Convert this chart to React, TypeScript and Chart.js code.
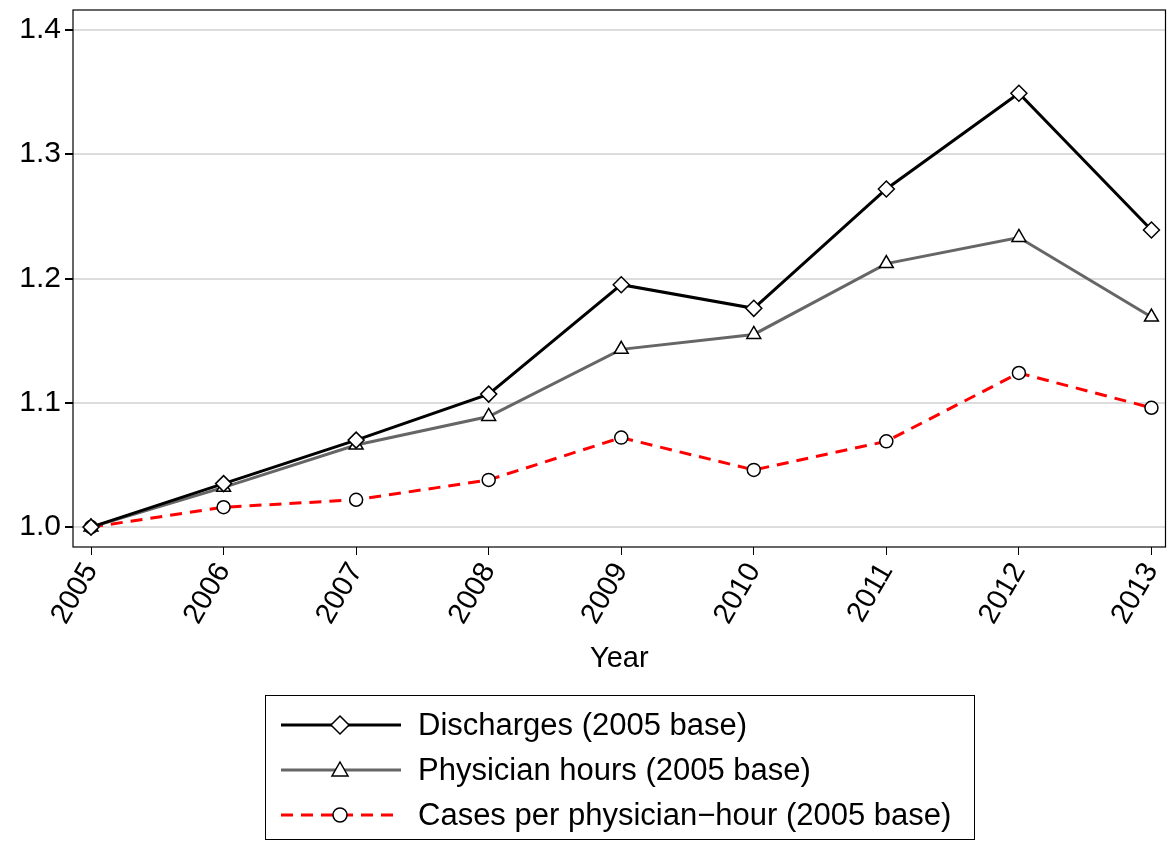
import React, { useEffect, useRef } from 'react';
import Chart from 'chart.js/auto';

const years = [2005, 2006, 2007, 2008, 2009, 2010, 2011, 2012, 2013];
const discharges = [1.0, 1.035, 1.07, 1.107, 1.195, 1.176, 1.272, 1.349, 1.239];
const physicianHours = [1.0, 1.032, 1.066, 1.089, 1.143, 1.155, 1.212, 1.233, 1.169];
const casesPerHour = [1.0, 1.016, 1.022, 1.038, 1.072, 1.046, 1.069, 1.124, 1.096];
const yTicks = [1.0, 1.1, 1.2, 1.3, 1.4];

const FONT = '"Liberation Sans", Arial, sans-serif';

const frame = {
  id: 'frame',
  afterDraw(chart: any) {
    const { ctx, chartArea: a } = chart;
    ctx.save();
    ctx.strokeStyle = '#000';
    ctx.lineWidth = 1.2;
    ctx.strokeRect(a.left, a.top, a.right - a.left, a.bottom - a.top);
    ctx.restore();
  },
};

const Marker: React.FC<{ kind: string; color: string; dash?: boolean }> = ({ kind, color, dash }) => (
  <svg width={122} height={24} style={{ verticalAlign: 'middle', flex: 'none' }}>
    <line x1={1} y1={12} x2={121} y2={12} stroke={color} strokeWidth={3} strokeDasharray={dash ? '12 8' : undefined} />
    {kind === 'diamond' && <polygon points="60,3 69,12 60,21 51,12" fill="#fff" stroke="#000" strokeWidth={1.5} />}
    {kind === 'tri' && <polygon points="60,4 68,18 52,18" fill="#fff" stroke="#000" strokeWidth={1.5} />}
    {kind === 'circle' && <circle cx={60} cy={12} r={7} fill="#fff" stroke="#000" strokeWidth={1.5} />}
  </svg>
);

export default function App() {
  const ref = useRef<HTMLCanvasElement>(null);
  useEffect(() => {
    if (!ref.current) return;
    const mk = (arr: number[]) => arr.map((v, i) => ({ x: years[i], y: v }));
    const chart = new Chart(ref.current, {
      type: 'line',
      data: {
        datasets: [
          { label: 'Discharges (2005 base)', data: mk(discharges), borderColor: '#000', borderWidth: 3, pointStyle: 'rectRot', pointRadius: 8, pointBackgroundColor: '#fff', pointBorderColor: '#000', pointBorderWidth: 1.5 },
          { label: 'Physician hours (2005 base)', data: mk(physicianHours), borderColor: '#666', borderWidth: 3, pointStyle: 'triangle', pointRadius: 8, pointBackgroundColor: '#fff', pointBorderColor: '#000', pointBorderWidth: 1.5 },
          { label: 'Cases per physician\u2212hour (2005 base)', data: mk(casesPerHour), borderColor: '#ff0000', borderWidth: 3, borderDash: [12, 8], pointStyle: 'circle', pointRadius: 6.5, pointBackgroundColor: '#fff', pointBorderColor: '#000', pointBorderWidth: 1.5 },
        ],
      },
      options: {
        animation: false,
        responsive: false,
        layout: { padding: { top: 0, right: 2, left: 0, bottom: 0 } },
        plugins: { legend: { display: false }, tooltip: { enabled: false } },
        scales: {
          x: {
            type: 'linear',
            min: 2004.864,
            max: 2013.106,
            afterBuildTicks: (s: any) => { s.ticks = years.map((v) => ({ value: v })); },
            afterFit: (s: any) => { s.height = 133; s.paddingRight = 0; s.paddingLeft = 0; },
            ticks: { color: '#000', font: { family: FONT, size: 29 }, minRotation: 60, maxRotation: 60, callback: (v: any) => String(v), padding: 2 },
            grid: { drawOnChartArea: false, tickColor: '#000', tickLength: 8 },
            border: { display: false },
            title: { display: true, text: 'Year', color: '#000', font: { family: FONT, size: 29 }, padding: { top: 0, bottom: 4 } },
          },
          y: {
            min: 0.984,
            max: 1.416,
            afterBuildTicks: (s: any) => { s.ticks = yTicks.map((v) => ({ value: v })); },
            afterFit: (s: any) => { s.width = 73; s.paddingTop = 10; s.paddingBottom = 0; },
            ticks: { color: '#000', font: { family: FONT, size: 30 }, callback: (v: any) => Number(v).toFixed(1), padding: 4 },
            grid: { color: '#dcdcdc', lineWidth: 2, tickColor: '#000', tickLength: 8 },
            border: { display: false },
          },
        },
      },
      plugins: [frame],
    });
    return () => chart.destroy();
  }, []);

  const item = { display: 'flex', alignItems: 'center', height: 45, gap: 16, whiteSpace: 'nowrap' } as const;
  return (
    <div style={{ fontFamily: FONT }}>
      <canvas ref={ref} width={1175} height={680} style={{ position: 'fixed', left: 0, top: 0 }} />
      <div style={{ position: 'fixed', left: 265, top: 695, width: 710, height: 145, border: '1.5px solid #000', boxSizing: 'border-box', padding: '6px 0 0 14px', fontSize: 31 }}>
        <div style={item}><Marker kind="diamond" color="#000" />Discharges (2005 base)</div>
        <div style={item}><Marker kind="tri" color="#666" />Physician hours (2005 base)</div>
        <div style={item}><Marker kind="circle" color="#ff0000" dash />Cases per physician{'\u2212'}hour (2005 base)</div>
      </div>
    </div>
  );
}
